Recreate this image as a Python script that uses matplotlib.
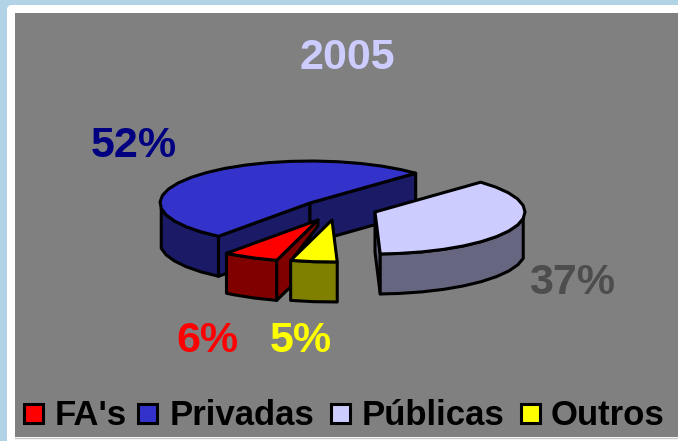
import numpy as np
import matplotlib
matplotlib.use("Agg")
import matplotlib.pyplot as plt
from matplotlib.patches import Polygon, Rectangle, FancyBboxPatch

labels = ["FA's", "Privadas", "Públicas", "Outros"]
values = [6, 52, 37, 5]
percent_labels = ["6%", "52%", "37%", "5%"]
top_colors = ["#FF0000", "#3333CC", "#CCCCFF", "#FFFF00"]
side_colors = ["#800000", "#1A1A66", "#666680", "#808000"]
label_colors = ["#FF0000", "#000080", "#4D4D4D", "#FFFF00"]
title = "2005"

# layout
centers = {"FA's": (318, 220), "Privadas": (310, 203), "Públicas": (375, 212), "Outros": (332, 220)}
RX, RY, DEPTH = 150, 42, 40
START = 254.0
EDGE = 2.2

plt.rcParams["font.family"] = ["Liberation Sans", "DejaVu Sans"]
fig = plt.figure(figsize=(6.78, 4.41), dpi=100, facecolor="#B2D2E6")
ax = fig.add_axes([0, 0, 1, 1])
ax.set_xlim(0, 678)
ax.set_ylim(441, 0)
ax.axis("off")

ax.add_patch(FancyBboxPatch((7, 5), 700, 460, boxstyle="round,pad=0,rounding_size=5",
                            fc="white", ec="none", zorder=0))
ax.add_patch(Rectangle((15, 13), 680, 424, fc="#808080", ec="none", zorder=1))
ax.plot([15, 678], [437.5, 437.5], color="#C8C8C8", lw=1, zorder=1)


def rim(c, t):
    t = np.radians(t)
    return np.column_stack([c[0] + RX * np.cos(t), c[1] - RY * np.sin(t)])


def draw_slice(i, hi, lo, z):
    c = centers[labels[i]]
    kw = dict(ec="black", lw=EDGE, joinstyle="round", zorder=z)
    down = np.array([0, DEPTH])
    apex = np.array([c])
    # cut faces turned towards the viewer
    for t, n in ((hi, hi + 90), (lo, lo - 90)):
        if np.sin(np.radians(n)) < 0.0:
            p = rim(c, [t])
            if labels[i] == "FA's":
                # only a narrow strip of this face shows beside the next slice
                q = p + down + 0.4 * (apex - p)
                face = np.vstack([apex, p, p + down, q, q - 0.65 * down, apex + 0.15 * down])
            else:
                face = np.vstack([apex, p, p + down, apex + down])
            ax.add_patch(Polygon(face, fc=side_colors[i], **kw))
    # front part of the rim
    ts = np.arange(hi, lo - 0.01, -9.0)
    ts = np.append(ts, lo)
    front = ts[np.sin(np.radians(ts)) <= 0.001]
    if len(front) > 1:
        p = rim(c, front)
        ax.add_patch(Polygon(np.vstack([p, (p + down)[::-1]]), fc=side_colors[i], **kw))
    ax.add_patch(Polygon(np.vstack([apex, rim(c, ts)]), fc=top_colors[i], **kw))


angles = START - np.cumsum([0] + values) * 3.6
for i, z in ((1, 2), (2, 3), (0, 4), (3, 5)):
    draw_slice(i, angles[i], angles[i + 1], z)

txt = dict(fontweight="bold", fontsize=31, ha="center", va="center", zorder=10)
ax.text(347, 58, title, color="#CCCCFF", **txt)
for s, col, pos in zip(percent_labels, label_colors, [(207, 341), (134, 146), (572, 283), (301, 341)]):
    ax.text(pos[0], pos[1], s, color=col, **txt)

for lab, col, bx, tx in zip(labels, top_colors, [24, 138, 331, 521], [55, 170, 362, 551]):
    ax.add_patch(Rectangle((bx, 404), 19, 19, fc=col, ec="black", lw=2.2, zorder=10))
    ax.text(tx, 425, lab, color="black", fontweight="bold", fontsize=25,
            ha="left", va="baseline", zorder=10)

fig.savefig("out.png", dpi=100, facecolor=fig.get_facecolor())
